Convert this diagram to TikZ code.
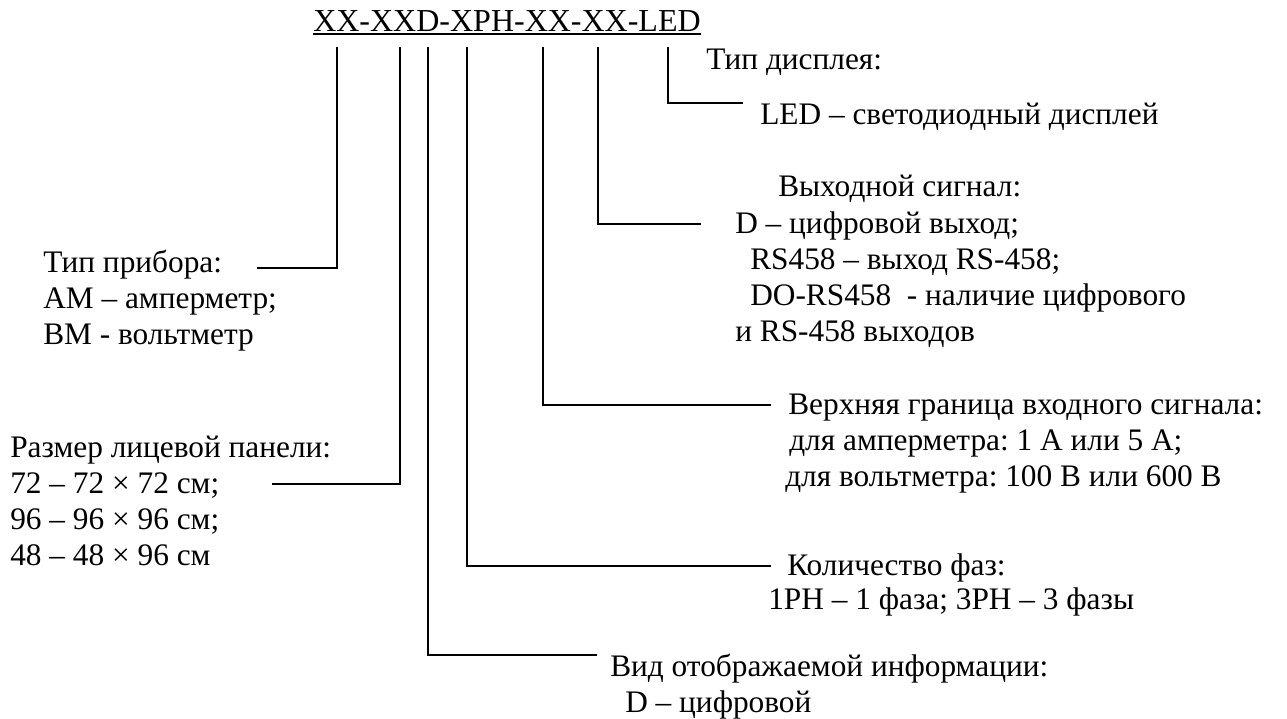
\documentclass[tikz,border=0pt]{standalone}
\usepackage{fontspec}
\setmainfont{Liberation Serif}
\frenchspacing
\begin{document}
\begin{tikzpicture}[x=0.75pt,y=-0.75pt,
  txt/.style={anchor=base west,inner sep=0pt,font=\fontsize{23.5}{27}\selectfont},
  ttl/.style={anchor=base west,inner sep=0pt,font=\fontsize{24}{28}\selectfont},
  lead/.style={line width=1.4pt,line cap=rect}]
\useasboundingbox (0,0) rectangle (1287,718);
% title
\node[ttl] (title) at (313,31) {XX-XXD-XPH-XX-XX-LED};
\draw[line width=1.4pt] ([yshift=-2.4pt]title.base west) -- ([yshift=-2.4pt]title.base east);
% tops of leader lines
\coordinate (c1) at (337,48);
\coordinate (c2) at (400,48);
\coordinate (c3) at (428,48);
\coordinate (c4) at (467,48);
\coordinate (c5) at (543,48);
\coordinate (c6) at (598,48);
\coordinate (c7) at (668,48);
% free ends
\coordinate (e1) at (258,268);
\coordinate (e2) at (273,484);
\coordinate (e3) at (596,655);
\coordinate (e4) at (770,566);
\coordinate (e5) at (770,405);
\coordinate (e6) at (700,224);
\coordinate (e7) at (742,103);
\draw[lead] (c1) |- (e1);
\draw[lead] (c2) |- (e2);
\draw[lead] (c3) |- (e3);
\draw[lead] (c4) |- (e4);
\draw[lead] (c5) |- (e5);
\draw[lead] (c6) |- (e6);
\draw[lead] (c7) |- (e7);
% right texts
\node[txt] (tdisp) at (706,69) {Тип дисплея:};
\node[txt] (led) at (760,124) {LED – светодиодный дисплей};
\node[txt] (vyh) at (778,196) {Выходной сигнал:};
\node[txt] (d1) at (735,233) {D – цифровой выход;};
\node[txt] (rs) at (750,269) {RS458 – выход RS-458;};
\node[txt] (dors) at (750,305) {DO-RS458\ \ - наличие цифрового};
\node[txt] (irs) at (735,341) {и RS-458 выходов};
\node[txt] (ver) at (788,414) {Верхняя граница входного сигнала:};
\node[txt] (amp) at (789,450) {для амперметра: 1 А или 5 А;};
\node[txt] (volt) at (785,486) {для вольтметра: 100 В или 600 В};
\node[txt] (kol) at (787,575) {Количество фаз:};
\node[txt] (ph) at (768,609) {1PH – 1 фаза; 3PH – 3 фазы};
\node[txt] (vid) at (610,676) {Вид отображаемой информации:};
\node[txt] (d2) at (625,712) {D – цифровой};
% left texts
\node[txt] (tpr) at (43,272) {Тип прибора:};
\node[txt] (am) at (43,308) {АМ – амперметр;};
\node[txt] (vm) at (43,344) {ВМ - вольтметр};
\node[txt] (raz) at (10,457) {Размер лицевой панели:};
\node[txt] (s72) at (10,493) {72 – 72 × 72 см;};
\node[txt] (s96) at (10,529) {96 – 96 × 96 см;};
\node[txt] (s48) at (10,565) {48 – 48 × 96 см};
\end{tikzpicture}
\end{document}
